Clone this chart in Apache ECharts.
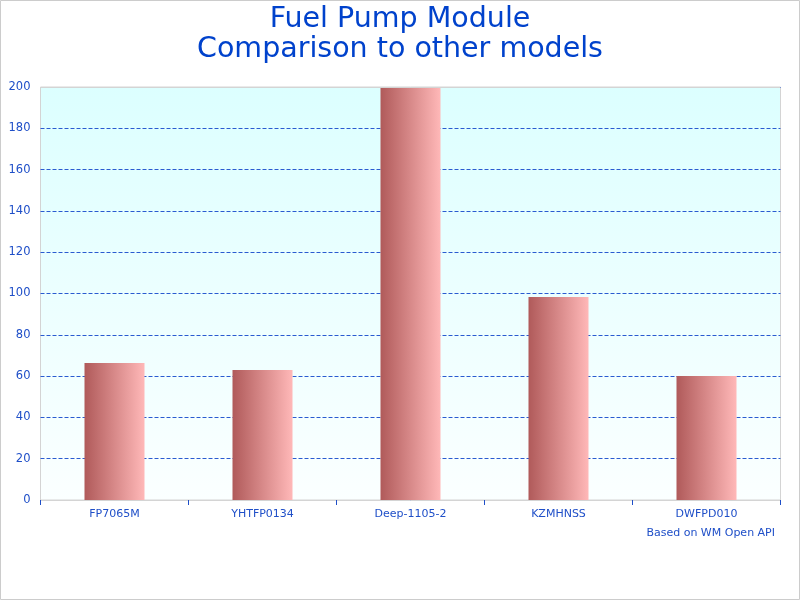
<!DOCTYPE html>
<html><head><meta charset="utf-8">
<script src="https://cdn.jsdelivr.net/npm/echarts@6/dist/echarts.min.js"></script>
<style>html,body{margin:0;padding:0;background:#fff}#c{width:800px;height:600px}</style>
</head><body><div id="c"></div>
<script>
var categories = ['FP7065M', 'YHTFP0134', 'Deep-1105-2', 'KZMHNSS', 'DWFPD010'];
var values = [66.3, 63, 199.5, 98.3, 60];
var yTicks = [0, 20, 40, 60, 80, 100, 120, 140, 160, 180, 200];

var chart = echarts.init(document.getElementById('c'));
var blue = '#1f4fc8';
chart.setOption({
  backgroundColor: '#fff',
  animation: false,
  title: [{
    text: 'Fuel Pump Module\nComparison to other models',
    left: 'center', top: 0,
    textStyle: {fontFamily: 'DejaVu Sans', fontSize: 28.5, fontWeight: 'normal', color: '#0042cc', lineHeight: 30}
  }, {
    text: 'Based on WM Open API',
    right: 20, top: 523,
    textStyle: {fontFamily: 'DejaVu Sans', fontSize: 11, fontWeight: 'normal', color: blue}
  }],
  graphic: [{
    type: 'rect', shape: {x: 0.5, y: 0.5, width: 799, height: 599},
    style: {fill: 'none', stroke: '#cccccc', lineWidth: 1}, silent: true
  }, {
    type: 'line', shape: {x1: 40, y1: 87.5, x2: 780, y2: 87.5}, z: 100,
    style: {stroke: '#d4d4d4', lineWidth: 1}, silent: true
  }],
  grid: {
    left: 40.5, right: 19.5, top: 87, bottom: 100, show: true,
    borderColor: '#d4d4d4', borderWidth: 1,
    backgroundColor: {type: 'linear', x: 0, y: 0, x2: 0, y2: 1,
      colorStops: [{offset: 0, color: '#dcffff'}, {offset: 1, color: '#fbffff'}]}
  },
  xAxis: {
    type: 'category', data: categories,
    axisLine: {lineStyle: {color: '#d4d4d4'}},
    axisTick: {show: true, length: 5, lineStyle: {color: blue}},
    axisLabel: {fontFamily: 'DejaVu Sans', fontSize: 11, color: blue, margin: 9}
  },
  yAxis: {
    type: 'value', min: 0, max: 200, interval: 20,
    axisLine: {show: false},
    axisTick: {show: false},
    axisLabel: {fontFamily: 'DejaVu Sans', fontSize: 11.5, color: blue, margin: 10,
      formatter: function (v) { return yTicks.indexOf(v) >= 0 ? String(v) : ''; }},
    splitLine: {lineStyle: {color: '#2a5bd0', type: [4, 2], width: 1}}
  },
  series: [{
    type: 'bar', data: values, barWidth: 60,
    itemStyle: {color: {type: 'linear', x: 0, y: 0, x2: 1, y2: 0,
      colorStops: [{offset: 0, color: '#b05a5a'}, {offset: 1, color: '#ffb8b8'}]}}
  }]
});
</script></body></html>
